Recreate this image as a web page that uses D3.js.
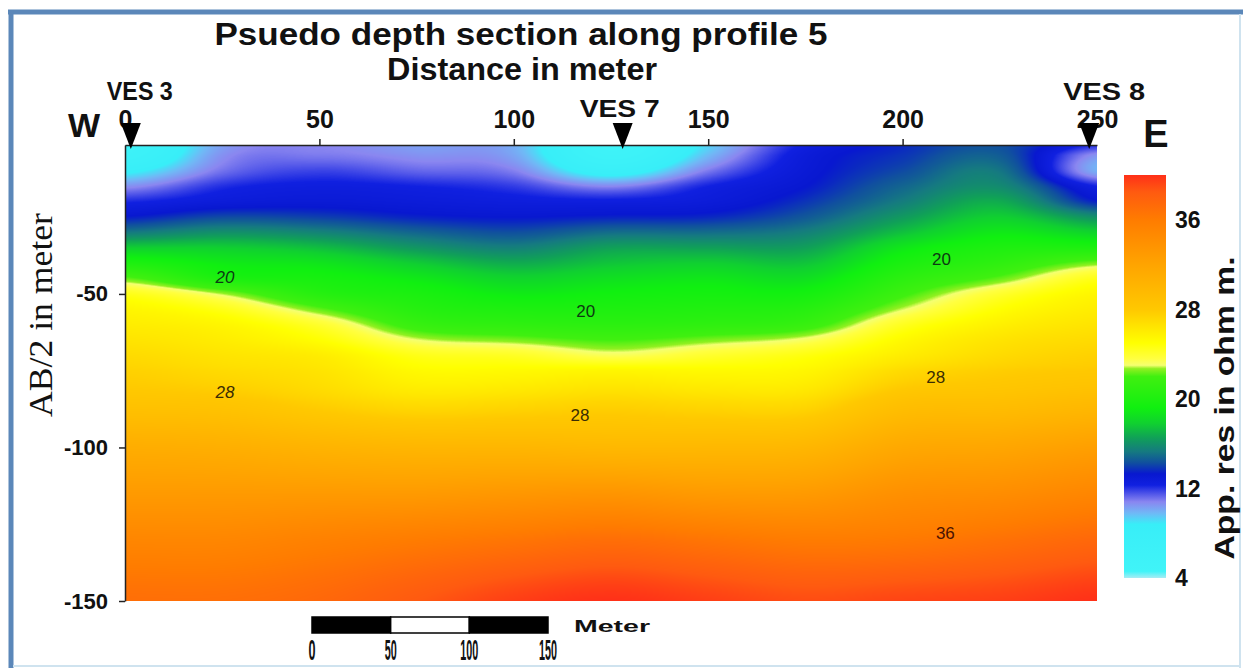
<!DOCTYPE html>
<html>
<head>
<meta charset="utf-8">
<script src="https://cdn.jsdelivr.net/npm/d3@7"></script>
<style>
  html, body { margin: 0; padding: 0; background: #ffffff; }
  svg { display: block; }
</style>
</head>
<body>
<svg id="chart" width="1243" height="668"></svg>
<script>
// ---- Survey grid: stations along the profile (m) and pseudo-depths AB/2 (m) ----
const distances = [0, 25, 50, 75, 100, 125, 150, 175, 200, 225, 250];
const depths = [1.5, 5, 10, 15, 20, 25, 30, 35, 40, 45, 50, 55, 60, 65, 70, 75, 85, 100, 115, 130, 150];

// Apparent resistivity (ohm m) down each station, one value per depth above
const at0   = [6, 6.5, 8.5, 10.6, 12.2, 13.4, 15.3, 17.8, 20, 22.3, 24.5, 25.5, 26, 26.5, 27, 27.5, 28.5, 31, 33, 35, 37];
const at25  = [10.3, 10.6, 11.1, 12.1, 12.8, 14.2, 16, 17.8, 19, 20, 22.8, 24.5, 25.5, 26, 26.5, 27, 28.3, 30.8, 33, 35, 37];
const at50  = [10.8, 11, 11.8, 12.5, 13, 14, 15.6, 17.3, 18.7, 19.6, 20.5, 22.3, 24, 25, 26, 26.5, 27.5, 30.3, 33, 35.5, 37.5];
const at75  = [10.3, 10.6, 11.3, 12.3, 12.8, 13.5, 14.8, 16.2, 17.7, 18.9, 19.8, 20.5, 21.5, 23, 24.5, 25.3, 26.8, 30, 33, 36, 38.5];
const at100 = [10, 10.2, 10.9, 11.9, 12.6, 13.3, 14.3, 15.5, 16.8, 18, 19, 20, 21, 22.5, 24.2, 25.3, 27, 30, 33.3, 36.5, 39.5];
const at125 = [5.5, 6, 8, 10.8, 12.5, 13.5, 15, 16.5, 17.5, 18.5, 19.3, 20, 20.8, 22, 23.3, 25.5, 27.3, 29.8, 33.5, 37, 40];
const at150 = [9.3, 9.8, 11, 12.3, 12.8, 13.6, 15, 16.5, 17.8, 18.8, 19.5, 20.2, 21, 22.5, 24, 25.3, 27, 29.8, 33, 36.5, 39.5];
const at175 = [12.5, 12.8, 13, 13.3, 13.8, 14.5, 15.5, 16.5, 17.5, 18.5, 19.5, 20.5, 21.5, 23.2, 24.7, 25.5, 27, 30, 33, 36, 39];
const at200 = [13.6, 13.8, 14.2, 14.8, 15.4, 16.3, 17.4, 18.8, 19.8, 20.8, 21.8, 22.9, 24.3, 25.3, 26, 27, 28.8, 31.5, 34, 36.2, 39.3];
const at225 = [14.3, 14.6, 15.2, 15.8, 16.8, 17.8, 18.9, 20, 21, 22.3, 24, 25, 25.8, 26.5, 27, 27.7, 29, 31.8, 34.3, 36.8, 39.5];
const at250 = [12, 10.5, 10, 12.3, 13.5, 16, 18, 20, 22.5, 24.5, 25.5, 26, 26.5, 27, 27.5, 28, 29.5, 32.5, 35, 37.5, 40];
const profiles = [at0, at25, at50, at75, at100, at125, at150, at175, at200, at225, at250];

// Colour table for resistivity (ohm m)
const colorStops = [4, 4.6, 8.8, 9.8, 10.8, 11.6, 12.3, 13.3, 14.3, 15.3, 16.5, 17.8, 19.2, 22, 22.7, 23, 23.6, 25, 26.5, 28, 32, 36, 38.5, 40];
const colorHex = ["#a8ecf4", "#40f4f8", "#38eef8", "#70b8f6", "#8a86f0", "#4a50e8", "#1020e0", "#0818d0", "#10509e",
                  "#157a80", "#10a058", "#10d030", "#10f010", "#40f010", "#90f020", "#f4ff70", "#ffff40", "#ffff00",
                  "#ffe400", "#ffc800", "#ffa400", "#ff7c00", "#ff5a10", "#ff3018"];

// Axis ticks
const xTicks = [0, 50, 100, 150, 200, 250];
const yTicks = [-50, -100, -150];
const legendTicks = [4, 12, 20, 28, 36];
const scaleBarTicks = [0, 50, 100, 150];

// VES stations
const stationNames = ["VES 3", "VES 7", "VES 8"];
const stationDist = [1.5, 128, 248];

// Contour value labels (value, distance m, depth m)
const contourValues = [20, 20, 20, 28, 28, 28, 36];
const contourDist = [25.7, 118.5, 210, 25.7, 117, 208.5, 211];
const contourDepth = [45, 56, 39, 82.5, 90, 77.5, 128.5];

// ---------------------------------------------------------------
const svg = d3.select("#chart");
const x = d3.scaleLinear().domain([0, 250]).range([125, 1097]);
const y = d3.scaleLinear().domain([-1.5, -150]).range([145, 601]);
const color = d3.scaleLinear().domain(colorStops).range(colorHex).interpolate(d3.interpolateRgb).clamp(true);
const FONT = "Liberation Sans, Arial, sans-serif";

// Outer frame
svg.append("line").attr("x1", 8).attr("x2", 1243).attr("y1", 12).attr("y2", 12)
   .attr("stroke", "#5b87b9").attr("stroke-width", 5);
svg.append("line").attr("x1", 11).attr("x2", 11).attr("y1", 10).attr("y2", 668)
   .attr("stroke", "#5b87b9").attr("stroke-width", 5);
svg.append("line").attr("x1", 1240).attr("x2", 1240).attr("y1", 14).attr("y2", 668)
   .attr("stroke", "#cfe3ef").attr("stroke-width", 2);
svg.append("line").attr("x1", 13).attr("x2", 1240).attr("y1", 666).attr("y2", 666)
   .attr("stroke", "#cfe3ef").attr("stroke-width", 2);

// ---- Resistivity section rendered on a canvas with bicubic smoothing ----
const x0 = x(0), y0 = y(-1.5);
const pw = Math.round(x(250) - x0), ph = Math.round(y(-150) - y0);
const canvas = document.createElement("canvas");
canvas.width = pw; canvas.height = ph;
const ctx = canvas.getContext("2d");
const image = ctx.createImageData(pw, ph);

const lutN = 2000;
const lut = d3.range(lutN + 1).map(i => d3.rgb(color(4 + 36 * i / lutN)));
const depthIndex = d3.scaleLinear().domain(depths).range(d3.range(depths.length)).clamp(true);
const distIndex = d3.scaleLinear().domain([distances[0], distances[distances.length - 1]])
                    .range([0, distances.length - 1]).clamp(true);

function catmull(p0, p1, p2, p3, t) {
  return 0.5 * (2 * p1 + (-p0 + p2) * t + (2 * p0 - 5 * p1 + 4 * p2 - p3) * t * t +
                (-p0 + 3 * p1 - 3 * p2 + p3) * t * t * t);
}
function pick(arr, i) { return arr[Math.max(0, Math.min(arr.length - 1, i))]; }

// values of each station column at every pixel row
const colRows = profiles.map(() => new Float32Array(ph));
for (let py = 0; py < ph; py++) {
  const depth = -y.invert(y0 + py + 0.5);
  const fj = depthIndex(depth);
  const j = Math.min(Math.floor(fj), depths.length - 2), t = fj - j;
  profiles.forEach((p, c) => {
    colRows[c][py] = catmull(pick(p, j - 1), pick(p, j), pick(p, j + 1), pick(p, j + 2), t);
  });
}
for (let px = 0; px < pw; px++) {
  const fi = distIndex(x.invert(x0 + px + 0.5));
  const i = Math.min(Math.floor(fi), distances.length - 2), t = fi - i;
  const c0 = colRows[Math.max(0, i - 1)], c1 = colRows[i], c2 = colRows[i + 1],
        c3 = colRows[Math.min(distances.length - 1, i + 2)];
  for (let py = 0; py < ph; py++) {
    let v = catmull(c0[py], c1[py], c2[py], c3[py], t);
    v = Math.max(4, Math.min(40, v));
    const c = lut[Math.round((v - 4) / 36 * lutN)];
    const k = (py * pw + px) * 4;
    image.data[k] = c.r; image.data[k + 1] = c.g; image.data[k + 2] = c.b; image.data[k + 3] = 255;
  }
}
ctx.putImageData(image, 0, 0);
svg.append("image").attr("x", x0).attr("y", y0).attr("width", pw).attr("height", ph)
   .attr("preserveAspectRatio", "none").attr("href", canvas.toDataURL());

// Contour value labels
svg.append("g").selectAll("text").data(contourValues).join("text")
   .attr("x", (d, i) => x(contourDist[i]))
   .attr("y", (d, i) => y(-contourDepth[i]))
   .attr("text-anchor", "middle").attr("dominant-baseline", "middle")
   .attr("font-family", FONT).attr("font-size", 17)
   .attr("font-style", (d, i) => i === 0 || i === 3 ? "italic" : "normal")
   .attr("fill", d => d === 20 ? "#0d3a12" : (d === 28 ? "#3a2c04" : "#4a1204"))
   .text(d => d);

// ---- Axes ----
const axisTop = svg.append("g").attr("transform", `translate(0,${y0})`)
  .call(d3.axisTop(x).tickValues(xTicks).tickSize(6).tickSizeOuter(0).tickPadding(11));
axisTop.selectAll("text").attr("font-family", FONT)
  .attr("font-size", 25).attr("font-weight", "bold").attr("fill", "#111");
const axisLeft = svg.append("g").attr("transform", `translate(${x0},0)`)
  .call(d3.axisLeft(y).tickValues(yTicks).tickFormat(d => String(d))
          .tickSize(6).tickSizeOuter(0).tickPadding(11));
axisLeft.selectAll("text").attr("font-family", FONT)
  .attr("font-size", 22).attr("font-weight", "bold").attr("fill", "#111");
svg.selectAll(".domain, .tick line").attr("stroke", "#222").attr("stroke-width", 1.5);
axisTop.selectAll(".tick").filter(d => d === 0 || d === 250).select("line").remove();

// Station markers
const stationLabelDx = [9, -3, 15];
const stationLabelY = [100, 117, 100];
const stationLabelW = [66, 80, 82];
const stationFont = [26, 23, 24];
const st = svg.append("g");
st.selectAll("path").data(stationDist).join("path")
  .attr("d", d => { const cx = x(d); return `M${cx - 10},123 L${cx + 10},123 L${cx},149 Z`; })
  .attr("fill", "#000");
st.selectAll("text").data(stationNames).join("text")
  .attr("x", (d, i) => x(stationDist[i]) + stationLabelDx[i])
  .attr("y", (d, i) => stationLabelY[i])
  .attr("text-anchor", "middle")
  .attr("font-family", FONT).attr("font-weight", "bold")
  .attr("font-size", (d, i) => stationFont[i])
  .attr("textLength", (d, i) => stationLabelW[i]).attr("lengthAdjust", "spacingAndGlyphs")
  .attr("fill", "#111")
  .text(d => d);

// Compass letters
svg.append("text").attr("x", 84).attr("y", 137).attr("text-anchor", "middle")
   .attr("font-family", FONT).attr("font-weight", "bold")
   .attr("font-size", 34).attr("fill", "#111").text("W");
svg.append("text").attr("x", 1156).attr("y", 147).attr("text-anchor", "middle")
   .attr("font-family", FONT).attr("font-weight", "bold")
   .attr("font-size", 38).attr("fill", "#111").text("E");

// Titles
svg.append("text").attr("x", 521).attr("y", 45).attr("text-anchor", "middle")
   .attr("font-family", FONT).attr("font-weight", "bold")
   .attr("font-size", 31).attr("textLength", 613).attr("lengthAdjust", "spacingAndGlyphs")
   .attr("fill", "#111").text("Psuedo depth section along profile 5");
svg.append("text").attr("x", 522).attr("y", 80).attr("text-anchor", "middle")
   .attr("font-family", FONT).attr("font-weight", "bold")
   .attr("font-size", 31).attr("textLength", 270).attr("lengthAdjust", "spacingAndGlyphs")
   .attr("fill", "#111").text("Distance in meter");

// Y axis title
svg.append("text").attr("transform", "translate(52,315) rotate(-90)")
   .attr("text-anchor", "middle")
   .attr("font-family", "Liberation Serif, Times New Roman, serif")
   .attr("font-size", 33).attr("textLength", 204).attr("lengthAdjust", "spacingAndGlyphs")
   .attr("fill", "#111").text("AB/2 in meter");

// ---- Colour bar ----
const cb = d3.scaleLinear().domain([4, 40]).range([578, 175]);
const grad = svg.append("defs").append("linearGradient").attr("id", "resGrad")
  .attr("x1", 0).attr("y1", 1).attr("x2", 0).attr("y2", 0);
grad.selectAll("stop").data(colorStops).join("stop")
  .attr("offset", d => (d - 4) / 36)
  .attr("stop-color", (d, i) => colorHex[i]);
svg.append("rect").attr("x", 1124).attr("y", cb(40)).attr("width", 42).attr("height", cb(4) - cb(40))
   .attr("fill", "url(#resGrad)");
svg.append("g").selectAll("text").data(legendTicks).join("text")
   .attr("x", 1175).attr("y", d => cb(d)).attr("dy", "0.36em")
   .attr("font-family", FONT).attr("font-weight", "bold")
   .attr("font-size", 23).attr("fill", "#111").text(d => d);
svg.append("text").attr("transform", "translate(1234,408) rotate(-90)")
   .attr("text-anchor", "middle")
   .attr("font-family", FONT).attr("font-weight", "bold")
   .attr("font-size", 27).attr("textLength", 303).attr("lengthAdjust", "spacingAndGlyphs")
   .attr("fill", "#111").text("App. res in ohm m.");

// ---- Graphic scale bar ----
const sb = d3.scaleLinear().domain([0, 150]).range([312, 548]);
svg.append("g").selectAll("rect").data(scaleBarTicks.slice(0, -1)).join("rect")
   .attr("x", d => sb(d)).attr("y", 617).attr("width", d => sb(d + 50) - sb(d)).attr("height", 16)
   .attr("fill", (d, i) => i % 2 === 0 ? "#000" : "#fff")
   .attr("stroke", "#000").attr("stroke-width", 1.5);
const sbWidths = [7, 12, 18, 18];
svg.append("g").selectAll("text").data(scaleBarTicks).join("text")
   .attr("x", d => sb(d)).attr("y", 660).attr("text-anchor", "middle")
   .attr("font-family", FONT).attr("font-weight", "bold")
   .attr("font-size", 29).attr("textLength", (d, i) => sbWidths[i]).attr("lengthAdjust", "spacingAndGlyphs")
   .attr("fill", "#111").text(d => d);
svg.append("text").attr("x", 574).attr("y", 632)
   .attr("font-family", FONT).attr("font-weight", "bold")
   .attr("font-size", 17).attr("textLength", 76).attr("lengthAdjust", "spacingAndGlyphs")
   .attr("fill", "#111").text("Meter");
</script>
</body>
</html>
